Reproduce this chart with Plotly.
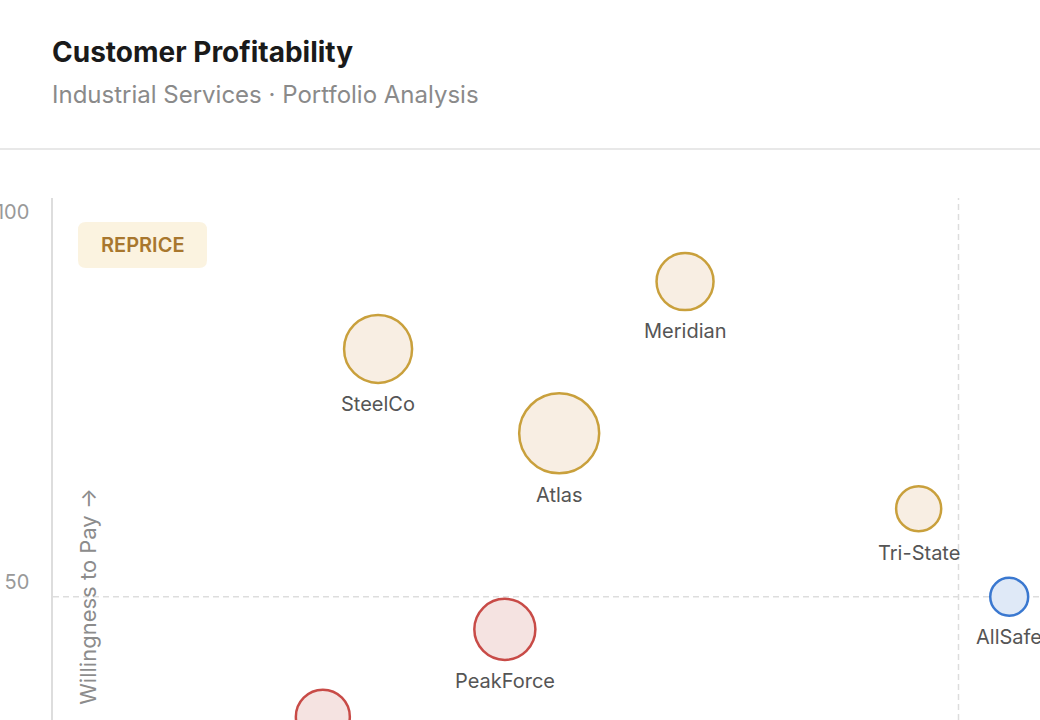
import math
import plotly.graph_objects as go

# ---- data ----
customers = ["Meridian", "SteelCo", "Atlas", "Tri-State", "AllSafe", "PeakForce", "Keystone"]
cost_to_serve = [69.8, 35.9, 55.9, 95.6, 105.6, 49.9, 29.8]       # x
willingness = [90.6, 81.5, 70.1, 59.9, 48.0, 43.6, 31.8]          # y
revenue_m = [2.03, 2.89, 4.0, 1.27, 0.90, 2.33, 1.82]             # bubble size
segment = ["reprice", "reprice", "reprice", "reprice", "grow", "exit", "exit"]

x_split = 100
y_split = 48
y_ticks = [50, 100]

palette = {
    "reprice": ("#C9A03C", "#F8EEE3"),
    "grow": ("#3A78D0", "#DFE9F7"),
    "exit": ("#C84B47", "#F5E3E1"),
}

SIZEREF = 0.00125
LINE_W = 2.5
W, H = 1040, 720
fig = go.Figure()

for seg in ["reprice", "grow", "exit"]:
    idx = [i for i, s in enumerate(segment) if s == seg]
    line_c, fill_c = palette[seg]
    fig.add_trace(go.Scatter(
        x=[cost_to_serve[i] for i in idx],
        y=[willingness[i] for i in idx],
        text=[customers[i] for i in idx],
        mode="markers",
        marker=dict(
            size=[revenue_m[i] for i in idx],
            sizemode="area",
            sizeref=SIZEREF,
            color=fill_c,
            line=dict(color=line_c, width=LINE_W),
            opacity=1,
        ),
        hoverinfo="text",
        showlegend=False,
    ))

# labels below each bubble (offset = plotly's bubble radius + gap)
for name, xv, yv, rv in zip(customers, cost_to_serve, willingness, revenue_m):
    radius = math.sqrt(rv / 2 / SIZEREF)
    fig.add_annotation(text=name, x=xv, y=yv, xref="x", yref="y", showarrow=False,
                       yanchor="middle", yshift=-(radius + LINE_W / 2 + 20),
                       font=dict(family="Inter", size=20, color="#555555"))

fig.update_layout(
    width=W, height=H,
    margin=dict(l=53, r=0, t=198, b=0, autoexpand=False),
    paper_bgcolor="white", plot_bgcolor="white",
    xaxis=dict(range=[0, 109], showgrid=False, zeroline=False, showticklabels=False, showline=False,
               automargin=False),
    yaxis=dict(range=[31.35, 101.9], tickvals=y_ticks, showgrid=False, zeroline=False,
               showline=True, linecolor="#DDDDDD", linewidth=1.5, automargin=False,
               tickfont=dict(family="Inter", size=20, color="#999999"),
               ticklabelstandoff=18),
)

# quadrant lines
fig.add_shape(type="line", xref="x", yref="paper", x0=x_split, x1=x_split, y0=0, y1=1,
              line=dict(color="#DDDDDD", width=1.5, dash="6px,4px"), layer="below")
fig.add_shape(type="line", xref="paper", yref="y", x0=0, x1=1, y0=y_split, y1=y_split,
              line=dict(color="#DDDDDD", width=1.5, dash="6px,4px"), layer="below")

# header separator
fig.add_shape(type="line", xref="paper", yref="paper", x0=-53 / 987, x1=1,
              y0=(720 - 149) / 522, y1=(720 - 149) / 522,
              line=dict(color="#E0E0E0", width=1.5))

# REPRICE badge (rounded rect in pixels anchored at x=0, y=100)
r = 8
x0, x1, y0, y1 = 25, 154, -56, -10
path = (f"M {x0+r},{y0} L {x1-r},{y0} Q {x1},{y0} {x1},{y0+r} L {x1},{y1-r} Q {x1},{y1} {x1-r},{y1} "
        f"L {x0+r},{y1} Q {x0},{y1} {x0},{y1-r} L {x0},{y0+r} Q {x0},{y0} {x0+r},{y0} Z")
fig.add_shape(type="path", path=path, xref="x", yref="y", xsizemode="pixel", ysizemode="pixel",
              xanchor=0, yanchor=100, fillcolor="#FBF3E0", line=dict(width=0), layer="below")
fig.add_annotation(text="REPRICE", xref="x", yref="y", x=0, y=100, xshift=89.5, yshift=-33,
                   showarrow=False, font=dict(family="Inter", size=20, weight=600, color="#A8772E"))

# axis title
fig.add_annotation(text="Willingness to Pay →", xref="paper", yref="y", x=0, xshift=35, xanchor="center",
                   y=y_split, textangle=-90, showarrow=False,
                   font=dict(family="Inter", size=22, color="#8C8C8C"))

# title / subtitle
fig.add_annotation(text="<b>Customer Profitability</b>", xref="paper", yref="paper", x=0, xshift=-3,
                   xanchor="left", y=(720 - 52) / 522, yanchor="middle", showarrow=False,
                   font=dict(family="Inter", size=28, color="#1A1A1A"))
fig.add_annotation(text="Industrial Services · Portfolio Analysis", xref="paper", yref="paper", x=0,
                   xshift=-3, xanchor="left", y=(720 - 94) / 522, yanchor="middle", showarrow=False,
                   font=dict(family="Inter", size=24, color="#8A8A8A"))

fig.write_html(
    "out.html",
    config={"displayModeBar": False},
    post_script="document.body.style.margin='0';document.body.style.padding='0';"
                "document.documentElement.style.overflow='hidden';",
)
